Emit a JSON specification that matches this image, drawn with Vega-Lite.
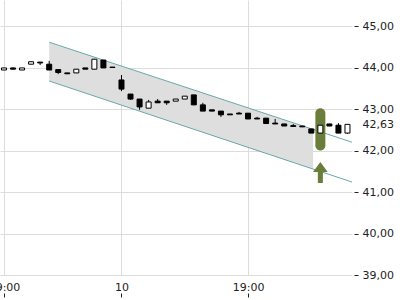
{
  "$schema": "https://vega.github.io/schema/vega-lite/v6.json",
  "width": 352,
  "height": 275,
  "autosize": {"type": "none"},
  "padding": {"left": 0, "top": 0, "right": 48, "bottom": 25},
  "background": "white",
  "config": {
    "view": {"stroke": null},
    "font": "DejaVu Sans",
    "axis": {"labelFont": "DejaVu Sans", "labelFontSize": 11, "labelColor": "#222", "tickColor": "#222", "gridColor": "#dcdcdc", "gridWidth": 1, "domain": false}
  },
  "datasets": {
    "candles": [
      {"i": 0, "o": 43.94, "c": 43.99, "h": 43.99, "l": 43.94},
      {"i": 1, "o": 43.99, "c": 43.96, "h": 44.0, "l": 43.95},
      {"i": 2, "o": 43.94, "c": 43.99, "h": 43.99, "l": 43.94},
      {"i": 3, "o": 44.08, "c": 44.14, "h": 44.14, "l": 44.08},
      {"i": 4, "o": 44.13, "c": 44.11, "h": 44.13, "l": 44.06},
      {"i": 5, "o": 44.08, "c": 43.94, "h": 44.16, "l": 43.94},
      {"i": 6, "o": 43.95, "c": 43.88, "h": 43.95, "l": 43.84},
      {"i": 7, "o": 43.87, "c": 43.85, "h": 43.87, "l": 43.84},
      {"i": 8, "o": 43.87, "c": 43.96, "h": 43.96, "l": 43.87},
      {"i": 9, "o": 43.99, "c": 43.96, "h": 43.99, "l": 43.96},
      {"i": 10, "o": 43.96, "c": 44.2, "h": 44.2, "l": 43.96},
      {"i": 11, "o": 44.18, "c": 43.99, "h": 44.18, "l": 43.99},
      {"i": 12, "o": 44.01, "c": 44.0, "h": 44.01, "l": 44.0},
      {"i": 13, "o": 43.7, "c": 43.48, "h": 43.82, "l": 43.43},
      {"i": 14, "o": 43.36, "c": 43.24, "h": 43.36, "l": 43.22},
      {"i": 15, "o": 43.24, "c": 43.05, "h": 43.24, "l": 42.98},
      {"i": 16, "o": 43.02, "c": 43.17, "h": 43.22, "l": 43.02},
      {"i": 17, "o": 43.19, "c": 43.15, "h": 43.24, "l": 43.15},
      {"i": 18, "o": 43.19, "c": 43.15, "h": 43.19, "l": 43.1},
      {"i": 19, "o": 43.19, "c": 43.24, "h": 43.24, "l": 43.19},
      {"i": 20, "o": 43.24, "c": 43.31, "h": 43.31, "l": 43.24},
      {"i": 21, "o": 43.34, "c": 43.1, "h": 43.34, "l": 43.1},
      {"i": 22, "o": 43.1, "c": 42.95, "h": 43.15, "l": 42.95},
      {"i": 23, "o": 42.98, "c": 42.95, "h": 42.98, "l": 42.95},
      {"i": 24, "o": 42.95, "c": 42.86, "h": 42.95, "l": 42.81},
      {"i": 25, "o": 42.88, "c": 42.86, "h": 42.88, "l": 42.86},
      {"i": 26, "o": 42.9, "c": 42.88, "h": 42.93, "l": 42.88},
      {"i": 27, "o": 42.9, "c": 42.76, "h": 42.9, "l": 42.76},
      {"i": 28, "o": 42.78, "c": 42.76, "h": 42.81, "l": 42.76},
      {"i": 29, "o": 42.78, "c": 42.65, "h": 42.78, "l": 42.65},
      {"i": 30, "o": 42.66, "c": 42.64, "h": 42.76, "l": 42.64},
      {"i": 31, "o": 42.64, "c": 42.59, "h": 42.64, "l": 42.59},
      {"i": 32, "o": 42.6, "c": 42.58, "h": 42.64, "l": 42.58},
      {"i": 33, "o": 42.59, "c": 42.57, "h": 42.59, "l": 42.57},
      {"i": 34, "o": 42.52, "c": 42.42, "h": 42.52, "l": 42.42},
      {"i": 35, "o": 42.42, "c": 42.61, "h": 42.61, "l": 42.42},
      {"i": 36, "o": 42.64, "c": 42.59, "h": 42.64, "l": 42.59},
      {"i": 37, "o": 42.61, "c": 42.42, "h": 42.66, "l": 42.42},
      {"i": 38, "o": 42.42, "c": 42.63, "h": 42.63, "l": 42.4}
    ],
    "band": [
      {"x": 5, "top": 44.61, "bot": 43.675},
      {"x": 34.2, "top": 42.51, "bot": 41.55}
    ],
    "lines": [
      {"x1": 5, "y1": 44.61, "x2": 38.5, "y2": 42.2},
      {"x1": 5, "y1": 43.675, "x2": 38.5, "y2": 41.24}
    ],
    "signal": [
      {"i": 35, "lo": 42.0, "hi": 43.02, "arrow": 41.47}
    ]
  },
  "layer": [
    {
      "data": {"name": "band"},
      "mark": {"type": "area", "color": "#dedede", "opacity": 1},
      "encoding": {
        "x": {"field": "x", "type": "quantitative", "title": null,
          "scale": {"domain": [-0.44, 38.5], "nice": false, "zero": false, "padding": 0},
          "axis": {"orient": "bottom", "values": [0, 13, 27], "tickCount": 20, "grid": true, "ticks": true, "tickSize": 4, "offset": 18, "labelPadding": -16, "labelFlush": false, "labelOverlap": false, "labelBound": false,
            "labelExpr": "datum.value == 0 ? '19:00' : datum.value == 13 ? '10' : '19:00'"}},
        "y": {"field": "top", "type": "quantitative", "title": null,
          "scale": {"domain": [39, 45.627], "nice": false, "zero": false, "padding": 0},
          "axis": {"orient": "right", "values": [39, 40, 41, 42, 43, 44, 45, 42.63], "tickCount": 20, "grid": true, "ticks": true, "tickSize": 4, "offset": 2, "labelPadding": 4, "labelOverlap": false, "labelBound": false, "labelFlush": false,
            "labelExpr": "replace(format(datum.value, '.2f'), '.', ',')",
            "tickOpacity": {"condition": {"test": "abs(datum.value - 42.63) < 0.001", "value": 0}, "value": 1},
            "gridOpacity": {"condition": {"test": "abs(datum.value - 42.63) < 0.001", "value": 0}, "value": 1}}},
        "y2": {"field": "bot"}
      }
    },
    {
      "data": {"name": "lines"},
      "mark": {"type": "rule", "color": "#6aa8ae", "strokeWidth": 1},
      "encoding": {
        "x": {"field": "x1", "type": "quantitative", "title": null},
        "y": {"field": "y1", "type": "quantitative", "title": null},
        "x2": {"field": "x2"},
        "y2": {"field": "y2"}
      }
    },
    {
      "data": {"name": "signal"},
      "mark": {"type": "bar", "color": "#6b7d3a", "size": 10, "cornerRadius": 5},
      "encoding": {
        "x": {"field": "i", "type": "quantitative", "title": null},
        "y": {"field": "lo", "type": "quantitative", "title": null},
        "y2": {"field": "hi"}
      }
    },
    {
      "data": {"name": "signal"},
      "mark": {"type": "point", "filled": true, "color": "#6b7d3a", "opacity": 1, "size": 441,
        "shape": "M0,-1 L0.7,-0.05 L0.24,-0.05 L0.24,1 L-0.24,1 L-0.24,-0.05 L-0.7,-0.05 Z"},
      "encoding": {
        "x": {"field": "i", "type": "quantitative", "title": null},
        "y": {"field": "arrow", "type": "quantitative", "title": null}
      }
    },
    {
      "data": {"name": "candles"},
      "mark": {"type": "rule", "color": "#000", "strokeWidth": 1},
      "encoding": {
        "x": {"field": "i", "type": "quantitative", "title": null},
        "y": {"field": "l", "type": "quantitative", "title": null},
        "y2": {"field": "h"}
      }
    },
    {
      "data": {"name": "candles"},
      "mark": {"type": "bar", "size": 5, "stroke": "#000", "strokeWidth": 1},
      "encoding": {
        "x": {"field": "i", "type": "quantitative", "title": null},
        "y": {"field": "o", "type": "quantitative", "title": null},
        "y2": {"field": "c"},
        "fill": {"condition": {"test": "datum.c > datum.o", "value": "#ffffff"}, "value": "#000000"}
      }
    }
  ]
}
